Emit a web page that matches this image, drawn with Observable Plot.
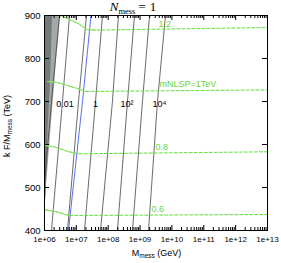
<!DOCTYPE html>
<html><head><meta charset="utf-8">
<script src="https://cdn.jsdelivr.net/npm/d3@7"></script>
<script src="https://cdn.jsdelivr.net/npm/@observablehq/plot@0.6"></script>
<style>body{margin:0;background:#fff}#chart svg{display:block}</style>
</head><body><div id="chart"></div>
<script>
// ---- axis ticks ----
const xTicks = [1e6, 1e7, 1e8, 1e9, 1e10, 1e11, 1e12, 1e13];
const xTickLabels = ["1e+06","1e+07","1e+08","1e+09","1e+10","1e+11","1e+12","1e+13"];
const minorMultipliers = [2,3,4,5,6,7,8,9];
const yTicks = [400, 500, 600, 700, 800, 900];

// ---- lifetime contours (black): M_mess at kF/M = 400, 700, 900 ----
const contourValues = [1e-3, 1e-2, 1e-1, 1, 10, 100, 1e3, 1e4];
const contourY = [400, 700, 900];
const contourM400 = [7.48e5, 1.66e6, 5.27e6, 1.80e7, 5.73e7, 1.95e8, 5.78e8, 1.84e9];
const contourM700 = [1.66e6, 3.67e6, 1.17e7, 3.99e7, 1.36e8, 4.03e8, 1.19e9, 3.52e9];
const contourM900 = [2.96e6, 6.10e6, 2.08e7, 6.61e7, 2.10e8, 6.68e8, 1.98e9, 6.28e9];

// contour labels
const contourLabelText = ["0.01", "1", "10\u00B2", "10\u2074"];
const contourLabelM = [4.40e6, 3.99e7, 3.88e8, 4.07e9];
const contourLabelY = [693, 693, 693, 693];

// ---- blue line ----
const blueM = [5.66e6, 1.56e7, 2.88e7];
const blueY = [400, 700, 900];

// ---- NLSP mass contours (green) ----
const nlspNames = ["1.2", "mNLSP=1TeV", "0.8", "0.6"];
const nlspM = [
  [3.18e6, 1.17e7, 2.24e7, 3.98e7, 1e13],
  [1.24e6, 2.56e6, 1.09e7, 1.94e7, 1e13],
  [1.07e6, 2.21e6, 5.66e6, 1.17e7, 1e13],
  [1.07e6, 2.21e6, 5.79e6, 1e13]
];
const nlspY = [
  [900, 881, 867, 866, 872],
  [746.5, 744.2, 730.2, 723.3, 727],
  [597.7, 593.8, 583.2, 578.4, 583],
  [448.1, 444.2, 434.9, 437.2]
];
const nlspLabelM = [3.79e9, 4.07e9, 3.05e9, 2.28e9];
const nlspLabelY = [879, 739.5, 593, 449];

// ---- excluded (gray) regions: right edge ----
const lightEdgeY = [900, 842, 795, 737, 679, 621, 563, 505, 458, 435];
const lightEdgeM = [3.18e6, 2.75e6, 2.38e6, 2.06e6, 1.78e6, 1.54e6, 1.34e6, 1.16e6, 1.04e6, 1.0e6];
const darkEdgeY = [900, 818.6, 725.6, 632.6, 539.5, 481.4, 434.9];
const darkEdgeM = [1.78e6, 1.66e6, 1.49e6, 1.29e6, 1.20e6, 1.11e6, 1.0e6];

// ---- build tables ----
const W = 281, Hh = 263, mL = 44, mR = 14, mT = 15, mB = 33;
const frameW = W - mL - mR, frameH = Hh - mT - mB;

const contourPts = [];
contourValues.forEach((v, i) => {
  [contourM400[i], contourM700[i], contourM900[i]].forEach((m, j) =>
    contourPts.push({id: i, x: m, y: contourY[j]}));
});
const bluePts = blueM.map((m, i) => ({x: m, y: blueY[i]}));
const greenAll = [], greenSolid = [];
nlspM.forEach((ms, i) => {
  ms.forEach((m, j) => {
    const p = {id: i, x: m, y: nlspY[i][j]};
    greenAll.push(p);
    if (j < ms.length - 1) greenSolid.push(p);
  });
});
const lightArea = lightEdgeY.map((y, i) => ({y, x: lightEdgeM[i]}));
const darkArea = darkEdgeY.map((y, i) => ({y, x: darkEdgeM[i]}));
const contourLabels = contourLabelText.map((t, i) => ({t, x: contourLabelM[i], y: contourLabelY[i]}));
const nlspLabels = nlspNames.map((t, i) => ({t, x: nlspLabelM[i], y: nlspLabelY[i]}));
const minorTicks = [];
xTicks.slice(0, -1).forEach(d => minorMultipliers.forEach(k => minorTicks.push(d * k)));
const xTickRows = xTicks.map((d, i) => ({x: d, label: xTickLabels[i]}));

const green = "#5fe03a";
const font = "'Liberation Sans', Arial, sans-serif";

const plot = Plot.plot({
  width: W, height: Hh,
  marginLeft: mL, marginRight: mR, marginTop: mT, marginBottom: mB,
  style: {fontFamily: font, background: "white"},
  x: {type: "log", domain: [1e6, 1e13], axis: null},
  y: {domain: [400, 900], axis: null},
  marks: [
    Plot.areaX(lightArea, {x1: 1e6, x2: "x", y: "y", fill: "#a2a9a6", clip: true}),
    Plot.areaX(darkArea, {x1: 1e6, x2: "x", y: "y", fill: "#737a77", clip: true}),
    Plot.line(contourPts, {x: "x", y: "y", z: "id", stroke: "#444", strokeWidth: 0.8, clip: true}),
    Plot.line(bluePts, {x: "x", y: "y", stroke: "#4060f0", strokeWidth: 0.9, clip: true}),
    Plot.line(greenAll, {x: "x", y: "y", z: "id", stroke: green, strokeWidth: 1, strokeDasharray: "3,2", clip: true}),
    Plot.line(greenSolid, {x: "x", y: "y", z: "id", stroke: "#8fe36a", strokeWidth: 1, clip: true}),
    Plot.text(contourLabels, {x: "x", y: "y", text: "t", fontSize: 9, fill: "black", textAnchor: "middle", lineAnchor: "middle"}),
    Plot.text(nlspLabels, {x: "x", y: "y", text: "t", fontSize: 9, fill: "#66d63a", textAnchor: "start", lineAnchor: "middle"}),
    // inward ticks
    Plot.ruleX(xTicks, {x: d => d, insetTop: frameH - 5, stroke: "black"}),
    Plot.ruleX(xTicks, {x: d => d, insetBottom: frameH - 5, stroke: "black"}),
    Plot.ruleX(minorTicks, {x: d => d, insetTop: frameH - 3, stroke: "black"}),
    Plot.ruleX(minorTicks, {x: d => d, insetBottom: frameH - 3, stroke: "black"}),
    Plot.ruleY(yTicks, {y: d => d, insetRight: frameW - 5, stroke: "black"}),
    Plot.ruleY(yTicks, {y: d => d, insetLeft: frameW - 5, stroke: "black"}),
    Plot.axisX(xTickRows, {x: "x", text: "label", tickSize: 0, tickPadding: 6, fontSize: 8, label: null}),
    Plot.axisY(yTicks, {tickSize: 0, tickPadding: 4, fontSize: 9.5, label: null}),
    Plot.frame({stroke: "black", strokeWidth: 1})
  ]
});
document.getElementById("chart").appendChild(plot);

// ---- title and axis labels with subscripts ----
const svg = d3.select(plot);
const t = svg.append("text").attr("x", 133).attr("y", 11)
  .attr("font-family", "'Liberation Serif', 'DejaVu Serif', serif").attr("font-size", 13).attr("fill", "black");
t.append("tspan").attr("font-style", "italic").text("N");
t.append("tspan").attr("font-size", 8.5).attr("dy", 2.5).text("mess");
t.append("tspan").attr("dy", -2.5).attr("dx", 3).text("=");
t.append("tspan").attr("dx", 4).text("1");

const xl = svg.append("text").attr("x", mL + frameW / 2 + 1).attr("y", 256)
  .attr("text-anchor", "middle").attr("font-family", font).attr("font-size", 9).attr("fill", "black");
xl.append("tspan").text("M");
xl.append("tspan").attr("font-size", 6.5).attr("dy", 2).text("mess");
xl.append("tspan").attr("dy", -2).text(" (GeV)");

const yl = svg.append("text").attr("transform", `translate(10,${126}) rotate(-90)`)
  .attr("text-anchor", "middle").attr("font-family", font).attr("font-size", 9).attr("fill", "black");
yl.append("tspan").text("k F/M");
yl.append("tspan").attr("font-size", 6.5).attr("dy", 2).text("mess");
yl.append("tspan").attr("dy", -2).text(" (TeV)");
</script>
</body></html>
